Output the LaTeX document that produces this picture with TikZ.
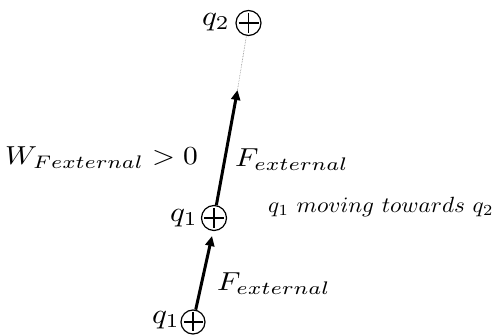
\documentclass[tikz,border=0pt]{standalone}
\usetikzlibrary{arrows.meta}
\begin{document}
\begin{tikzpicture}[x=1pt,y=-1pt,
  charge/.style={circle,draw,line width=1.2pt,inner sep=0pt,minimum size=#1,
    path picture={\draw[line width=1.2pt] ([yshift=-2.5pt]path picture bounding box.north) -- ([yshift=2.5pt]path picture bounding box.south)
      ([xshift=2.5pt]path picture bounding box.west) -- ([xshift=-2.5pt]path picture bounding box.east);}},
  lab/.style={inner sep=1pt},
  force/.style={line width=3pt,-{Triangle[length=10pt,width=9pt]}}]
\useasboundingbox (0,0) rectangle (499,336);
\node[charge=25pt] (c2) at (248.5,23) {};
\node[lab,anchor=east] (l2) at (231,22) {\scalebox{3.1}[2.8]{$q_2$}};
\node[charge=25pt] (c1) at (214,218) {};
\node[lab,anchor=east] (l1) at (199,218) {\scalebox{3.1}[2.8]{$q_1$}};
\node[charge=24pt] (c0) at (193,322) {};
\node[lab,anchor=east] (l0) at (181,320) {\scalebox{3.1}[2.8]{$q_1$}};
\coordinate (t1) at (237.5,90);
\coordinate (t0) at (212,236);
\draw[force] (c1) -- (t1);
\draw[densely dotted,line width=0.6pt,gray] (t1) -- (c2);
\draw[force] (c0) -- (t0);
\node[lab,anchor=west] (w) at (4,158) {\scalebox{2.95}[2.6]{$W_{Fexternal} > 0$}};
\node[lab,anchor=west] (f1) at (234,160) {\scalebox{3.0}[2.6]{$F_{external}$}};
\node[lab,anchor=west] (f0) at (216,284) {\scalebox{3.0}[2.6]{$F_{external}$}};
\node[lab,anchor=west] (m) at (267,207) {\scalebox{2.32}[2.2]{$q_1\ moving\ towards\ q_2$}};
\end{tikzpicture}
\end{document}
